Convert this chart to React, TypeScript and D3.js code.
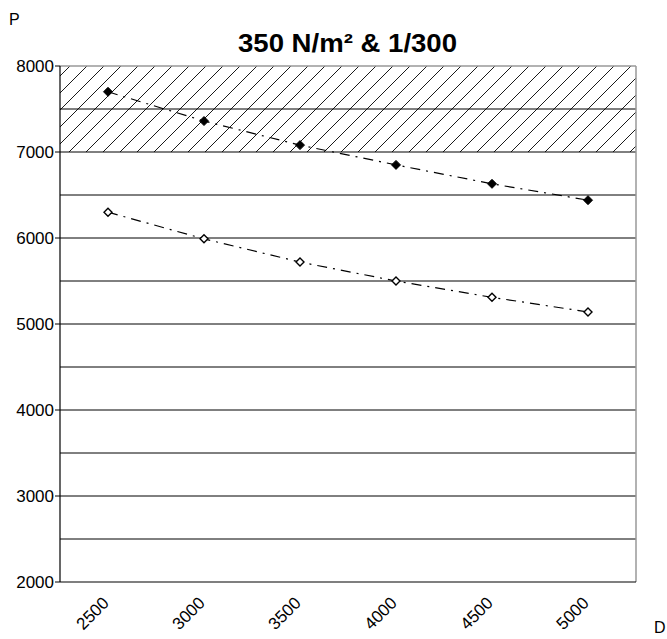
import React from "react";
import * as d3 from "d3";

// Span categories (D) and the two load series (P)
const spans = ["2500", "3000", "3500", "4000", "4500", "5000"];
const upperSeries = [7700, 7360, 7080, 6850, 6630, 6440];
const lowerSeries = [6300, 5990, 5720, 5500, 5310, 5140];
const majorTicks = [2000, 3000, 4000, 5000, 6000, 7000, 8000];
const gridValues = [2500, 3000, 3500, 4000, 4500, 5000, 5500, 6000, 6500, 7000, 7500];
const hatchBand = [7000, 8000];
const titleText = "350 N/m² & 1/300";
const yAxisLabel = "P";
const xAxisLabel = "D";

const W = 667;
const H = 639;
const margin = { left: 60, right: 31, top: 66, bottom: 57 };

export default function App() {
  const x = d3
    .scaleBand<string>()
    .domain(spans)
    .range([margin.left, W - margin.right])
    .paddingInner(0)
    .paddingOuter(0);
  const y = d3.scaleLinear().domain([2000, 8000]).range([H - margin.bottom, margin.top]);

  const x0 = margin.left;
  const x1 = W - margin.right;
  const cx = (s: string) => (x(s) as number) + x.bandwidth() / 2;

  const line = d3
    .line<number>()
    .x((_, i) => cx(spans[i]))
    .y((d) => y(d));

  const diamond = (px: number, py: number, r: number) =>
    `M${px},${py - r}L${px + r},${py}L${px},${py + r}L${px - r},${py}Z`;

  const font = "'Liberation Sans', Arial, Helvetica, sans-serif";

  return (
    <svg
      width={W}
      height={H}
      style={{ position: "absolute", left: 0, top: 0, background: "#fff" }}
      fontFamily={font}
    >
      <defs>
        <pattern id="hatch" patternUnits="userSpaceOnUse" width={17} height={17}>
          <path d="M-1,1L1,-1M0,17L17,0M16,18L18,16" stroke="#000" strokeWidth={0.9} />
        </pattern>
        <clipPath id="plot">
          <rect x={x0} y={margin.top} width={x1 - x0} height={y(2000) - margin.top} />
        </clipPath>
      </defs>

      {/* shaded band */}
      <rect
        x={x0}
        y={y(hatchBand[1])}
        width={x1 - x0}
        height={y(hatchBand[0]) - y(hatchBand[1])}
        fill="url(#hatch)"
      />

      {/* horizontal grid */}
      {gridValues.map((v) => (
        <line key={v} x1={x0} x2={x1} y1={y(v)} y2={y(v)} stroke="#000" strokeWidth={1} />
      ))}

      {/* frame */}
      <line x1={x0} x2={x1} y1={y(8000)} y2={y(8000)} stroke="#999" strokeWidth={1.5} />
      <line x1={x1} x2={x1} y1={y(8000)} y2={y(2000)} stroke="#999" strokeWidth={1.5} />
      <line x1={x0} x2={x0} y1={y(8000)} y2={y(2000)} stroke="#000" strokeWidth={1.2} />
      <line x1={x0} x2={x1} y1={y(2000)} y2={y(2000)} stroke="#000" strokeWidth={1.2} />

      {/* y ticks and labels */}
      {majorTicks.map((v) => (
        <g key={v}>
          <line x1={x0 - 5} x2={x0} y1={y(v)} y2={y(v)} stroke="#000" strokeWidth={1} />
          <text x={x0 - 6} y={y(v) + 6} textAnchor="end" fontSize={17} fill="#000">
            {v}
          </text>
        </g>
      ))}

      {/* x labels */}
      {spans.map((s) => (
        <text
          key={s}
          transform={`translate(${cx(s) + 2},${y(2000) + 22}) rotate(-45)`}
          textAnchor="end"
          fontSize={17}
          fill="#000"
        >
          {s}
        </text>
      ))}

      {/* series lines */}
      <g clipPath="url(#plot)">
        <path
          d={line(upperSeries) ?? ""}
          fill="none"
          stroke="#000"
          strokeWidth={1.2}
          strokeDasharray="10,6,2,6"
        />
        <path
          d={line(lowerSeries) ?? ""}
          fill="none"
          stroke="#000"
          strokeWidth={1.2}
          strokeDasharray="10,6,2,6"
        />
      </g>

      {/* markers */}
      {upperSeries.map((v, i) => (
        <path key={`u${i}`} d={diamond(cx(spans[i]), y(v), 4.5)} fill="#000" stroke="#000" strokeWidth={1} />
      ))}
      {lowerSeries.map((v, i) => (
        <path key={`l${i}`} d={diamond(cx(spans[i]), y(v), 4)} fill="#fff" stroke="#000" strokeWidth={1.4} />
      ))}

      {/* title and axis names */}
      <text
        x={238}
        y={52}
        fontSize={25}
        fontWeight="bold"
        fill="#000"
        textLength={219}
        lengthAdjust="spacingAndGlyphs"
      >
        {titleText}
      </text>
      <text x={9} y={25} fontSize={16} fill="#000">
        {yAxisLabel}
      </text>
      <text x={654} y={633} fontSize={16} fill="#000">
        {xAxisLabel}
      </text>
    </svg>
  );
}
